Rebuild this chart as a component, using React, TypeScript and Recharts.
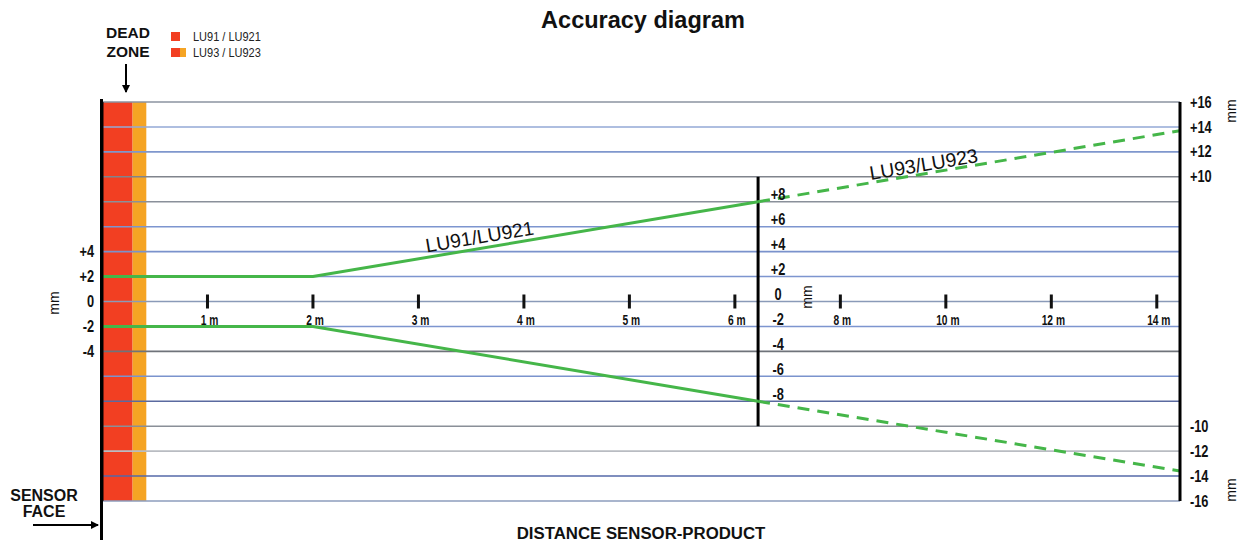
import React from 'react';
import { ComposedChart, Line, XAxis, YAxis, ReferenceLine, ReferenceArea, Scatter } from 'recharts';

// ---- data (distances in metres, deviations in mm) ----
const xTickMeters = [1, 2, 3, 4, 5, 6, 8, 10, 12, 14];
const leftTicks = [4, 2, 0, -2, -4];
const middleTicks = [8, 6, 4, 2, 0, -2, -4, -6, -8];
const rightTicks = [16, 14, 12, 10, -10, -12, -14, -16];
const gridValues = [16, 14, 12, 10, 8, 6, 4, 2, 0, -2, -4, -6, -8, -10, -12, -14, -16];
const lu91Upper = [{ m: 0, v: 2 }, { m: 2, v: 2 }, { m: 6.44, v: 8 }];
const lu91Lower = [{ m: 0, v: -2 }, { m: 2, v: -2 }, { m: 6.44, v: -8 }];
const lu93Upper = [{ m: 6.44, v: 8 }, { m: 14.44, v: 13.7 }];
const lu93Lower = [{ m: 6.44, v: -8 }, { m: 14.44, v: -13.6 }];
const deadZoneLU91 = [0, 0.29];
const deadZoneLU93 = [0.29, 0.42];
const lu91RangeEnd = 6.44;
const lineLabels = [
  { m: 3.58, v: 5.2, text: 'LU91/LU921' },
  { m: 9.58, v: 11.0, text: 'LU93/LU923' },
];
const maxDistance = 14.44;

// ---- styles ----
const GREEN = '#45b649';
const RED = '#f23f22';
const ORANGE = '#f5a424';
const gridColors: Record<number, string> = {
  16: '#8b93a0', 14: '#93a8d6', 12: '#7f97cd', 10: '#80848c', 8: '#8a909a', 6: '#7d95cf', 4: '#7a92cc',
  2: '#7d95cf', 0: '#8a9ab8', [-2]: '#7d95cf', [-4]: '#6f737a', [-6]: '#7b93cd', [-8]: '#5a6aa0',
  [-10]: '#8a8f98', [-12]: '#b9bcc2', [-14]: '#5468a8', [-16]: '#8c9cbc',
};
const SANS = "'Liberation Sans', Arial, sans-serif";

// piecewise distance scale: 1 unit per metre up to 6 m, then 1 unit per 2 m
const toPos = (m: number) => (m <= 6 ? m : 6 + (m - 6) / 2);
const fmt = (v: number) => (v > 0 ? `+${v}` : `${v}`);
const pts = (arr: { m: number; v: number }[]) => arr.map((d) => ({ x: toPos(d.m), y: d.v }));

const xTickData = xTickMeters.map((m) => ({ x: toPos(m), y: 0, label: `${m} m` }));
const midTickData = middleTicks.map((v) => ({ x: toPos(lu91RangeEnd), y: v, label: fmt(v) }));
const lineLabelData = lineLabels.map((d) => ({ x: toPos(d.m), y: d.v, label: d.text }));

// condensed-looking text (horizontal squeeze of Liberation Sans)
const NText = ({ x, y, anchor = 'start', size = 15, weight = 'bold', sx = 0.82, dy = '0.35em', fill = '#111', children }: any) => (
  <text
    transform={`translate(${x} ${y}) scale(${sx} 1)`}
    textAnchor={anchor}
    dy={dy}
    fontSize={size}
    fontWeight={weight}
    fontFamily={SANS}
    fill={fill}
  >
    {children}
  </text>
);

const XTickShape = (p: any) => (
  <g>
    <rect x={p.cx - 1.5} y={p.cy - 7} width={3} height={14} fill="#111" />
    <NText x={p.cx + 2} y={p.cy + 23} anchor="middle" size={15.5} sx={0.66} dy="0">
      {p.payload.label}
    </NText>
  </g>
);

const MidTickShape = (p: any) => (
  <NText x={p.cx + 20} y={p.cy - 7} anchor="middle" size={16} sx={0.8}>
    {p.payload.label}
  </NText>
);

const LineLabelShape = (p: any) => (
  <text
    x={p.cx}
    y={p.cy}
    dy="0.35em"
    textAnchor="middle"
    fontSize={19.5}
    fontFamily={SANS}
    fill="#111"
    transform={`rotate(-9.5 ${p.cx} ${p.cy})`}
  >
    {p.payload.label}
  </text>
);

const LeftTick = (p: any) => (
  <NText x={p.x} y={p.y} anchor="end" size={16} sx={0.8}>
    {fmt(p.payload.value)}
  </NText>
);
const RightTick = (p: any) => (
  <NText x={p.x + 2} y={p.y} anchor="start" size={16} sx={0.8}>
    {fmt(p.payload.value)}
  </NText>
);

export default function App() {
  return (
    <div style={{ position: 'absolute', left: 0, top: 0, width: 1244, height: 544, background: '#fff' }}>
      <div style={{ position: 'absolute', left: 0, top: 0 }}>
        <ComposedChart width={1244} height={544} margin={{ top: 102, right: 14, bottom: 43, left: 62 }}>
          <XAxis type="number" dataKey="x" domain={[0, toPos(maxDistance)]} hide allowDataOverflow />
          <YAxis
            yAxisId="left"
            type="number"
            dataKey="y"
            domain={[-16, 16]}
            ticks={leftTicks}
            interval={0}
            width={40}
            tickLine={false}
            axisLine={{ stroke: '#000', strokeWidth: 3 }}
            tick={LeftTick}
            allowDataOverflow
          />
          <YAxis
            yAxisId="right"
            orientation="right"
            type="number"
            dataKey="y"
            domain={[-16, 16]}
            ticks={rightTicks}
            interval={0}
            width={50}
            tickLine={false}
            axisLine={{ stroke: '#000', strokeWidth: 3 }}
            tick={RightTick}
            allowDataOverflow
          />
          <ReferenceArea yAxisId="left" x1={toPos(deadZoneLU91[0])} x2={toPos(deadZoneLU91[1])} y1={-16} y2={16} fill={RED} fillOpacity={1} stroke="none" />
          <ReferenceArea yAxisId="left" x1={toPos(deadZoneLU93[0])} x2={toPos(deadZoneLU93[1])} y1={-16} y2={16} fill={ORANGE} fillOpacity={1} stroke="none" />
          {gridValues.map((v) => (
            <ReferenceLine key={v} yAxisId="left" y={v} stroke={gridColors[v]} strokeWidth={1.6} />
          ))}
          <ReferenceLine
            yAxisId="left"
            segment={[{ x: toPos(lu91RangeEnd), y: 10 }, { x: toPos(lu91RangeEnd), y: -10 }]}
            stroke="#000"
            strokeWidth={3}
          />
          <Line yAxisId="left" data={pts(lu91Upper)} dataKey="y" type="linear" stroke={GREEN} strokeWidth={3} dot={false} isAnimationActive={false} />
          <Line yAxisId="left" data={pts(lu91Lower)} dataKey="y" type="linear" stroke={GREEN} strokeWidth={3} dot={false} isAnimationActive={false} />
          <Line yAxisId="left" data={pts(lu93Upper)} dataKey="y" type="linear" stroke={GREEN} strokeWidth={3} strokeDasharray="12 8" dot={false} isAnimationActive={false} />
          <Line yAxisId="left" data={pts(lu93Lower)} dataKey="y" type="linear" stroke={GREEN} strokeWidth={3} strokeDasharray="12 8" dot={false} isAnimationActive={false} />
          <Scatter yAxisId="left" data={xTickData} dataKey="y" shape={XTickShape} isAnimationActive={false} />
          <Scatter yAxisId="left" data={midTickData} dataKey="y" shape={MidTickShape} isAnimationActive={false} />
          <Scatter yAxisId="left" data={lineLabelData} dataKey="y" shape={LineLabelShape} isAnimationActive={false} />
        </ComposedChart>
      </div>
      <svg width={1244} height={544} style={{ position: 'absolute', left: 0, top: 0, pointerEvents: 'none' }}>
        <defs>
          <marker id="ah" markerWidth="8" markerHeight="8" refX="7" refY="4" orient="auto" markerUnits="userSpaceOnUse">
            <path d="M0,0 L8,4 L0,8 z" fill="#000" />
          </marker>
        </defs>
        <text x={643} y={28} textAnchor="middle" fontSize={23.5} fontWeight="bold" fontFamily={SANS} fill="#111">
          Accuracy diagram
        </text>
        <text x={128} y={38} textAnchor="middle" fontSize={15.5} fontWeight="bold" fontFamily={SANS} fill="#111">DEAD</text>
        <text x={128} y={57} textAnchor="middle" fontSize={15.5} fontWeight="bold" fontFamily={SANS} fill="#111">ZONE</text>
        <line x1={126} y1={64} x2={126} y2={92} stroke="#000" strokeWidth={2} markerEnd="url(#ah)" />
        <rect x={171} y={32} width={9} height={9} fill={RED} />
        <NText x={193} y={41} size={12.5} weight="normal" sx={0.88} dy="0" fill="#222">LU91 / LU921</NText>
        <rect x={171} y={48} width={9} height={9} fill={RED} />
        <rect x={180} y={48} width={6} height={9} fill={ORANGE} />
        <NText x={193} y={57} size={12.5} weight="normal" sx={0.88} dy="0" fill="#222">LU93 / LU923</NText>
        <line x1={101.5} y1={99} x2={101.5} y2={540} stroke="#000" strokeWidth={3} />
        <text x={44} y={501} textAnchor="middle" fontSize={16} fontWeight="bold" fontFamily={SANS} fill="#111">SENSOR</text>
        <text x={44} y={517} textAnchor="middle" fontSize={16} fontWeight="bold" fontFamily={SANS} fill="#111">FACE</text>
        <line x1={33} y1={525} x2={98} y2={525} stroke="#000" strokeWidth={2} markerEnd="url(#ah)" />
        <text x={641} y={539} textAnchor="middle" fontSize={16.8} fontWeight="bold" fontFamily={SANS} fill="#111">
          DISTANCE SENSOR-PRODUCT
        </text>
        <text transform="translate(59 303) rotate(-90)" textAnchor="middle" fontSize={14} fontFamily={SANS} fill="#111">mm</text>
        <text transform="translate(812 297) rotate(-90)" textAnchor="middle" fontSize={14} fontFamily={SANS} fill="#111">mm</text>
        <text transform="translate(1236 111) rotate(-90)" textAnchor="middle" fontSize={14} fontFamily={SANS} fill="#111">mm</text>
        <text transform="translate(1236 490) rotate(-90)" textAnchor="middle" fontSize={14} fontFamily={SANS} fill="#111">mm</text>
      </svg>
    </div>
  );
}
